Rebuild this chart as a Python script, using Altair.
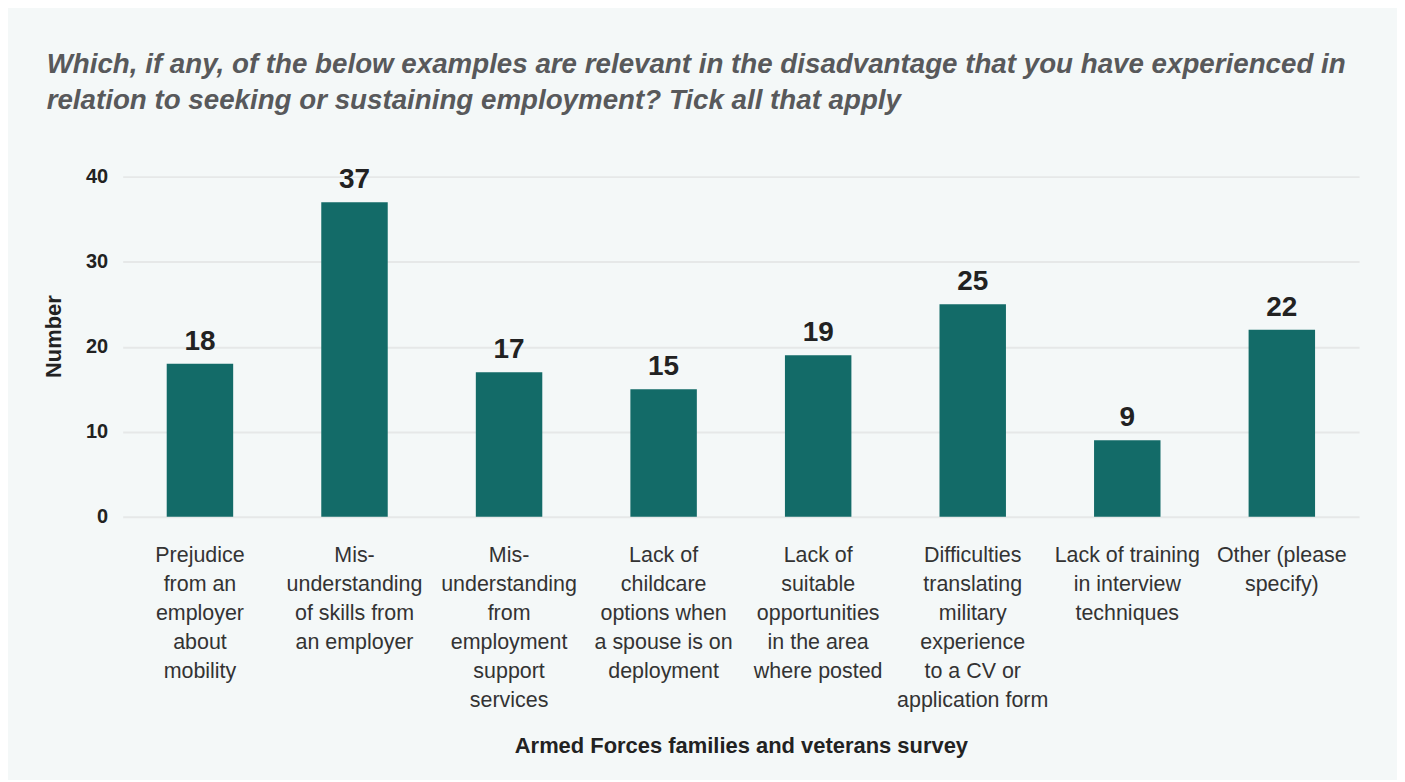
import altair as alt
import pandas as pd

categories = [
    "Prejudice|from an|employer|about|mobility",
    "Mis-|understanding|of skills from|an employer",
    "Mis-|understanding|from|employment|support|services",
    "Lack of|childcare|options when|a spouse is on|deployment",
    "Lack of|suitable|opportunities|in the area|where posted",
    "Difficulties|translating|military|experience|to a CV or|application form",
    "Lack of training|in interview|techniques",
    "Other (please|specify)",
]
values = [18, 37, 17, 15, 19, 25, 9, 22]

df = pd.DataFrame({"cat": categories, "val": values})

FONT = "Liberation Sans"
BAR = "#136b68"

x = alt.X("cat:N", sort=categories,
          scale=alt.Scale(paddingInner=0.57, paddingOuter=0.285),
          axis=alt.Axis(title="Armed Forces families and veterans survey",
                        labelExpr="split(datum.label, '|')",
                        labelAngle=0, labelFontSize=21.5, labelLineHeight=29,
                        labelColor="#333333", labelFont=FONT, labelPadding=28,
                        labelLimit=300,
                        ticks=False, domain=False,
                        titleFont=FONT, titleFontSize=22, titleFontWeight="bold",
                        titleColor="#222222", titlePadding=25))

y = alt.Y("val:Q", scale=alt.Scale(domain=[0, 40]),
          axis=alt.Axis(title="Number", values=[0, 10, 20, 30, 40],
                        labelFont=FONT, labelFontSize=20, labelFontWeight="bold",
                        labelColor="#222222", labelPadding=15,
                        ticks=False, domain=False,
                        gridColor="#e6e8e8", gridWidth=2,
                        titleFont=FONT, titleFontSize=22, titleFontWeight="bold",
                        titleColor="#222222", titlePadding=20, titleY=160))

bars = alt.Chart(df).mark_bar(color=BAR).encode(x=x, y=y)
labels = alt.Chart(df).mark_text(dy=-22, font=FONT, fontSize=28, fontWeight="bold",
                                 color="#222222").encode(
    x=alt.X("cat:N", sort=categories), y="val:Q", text="val:Q")

chart = (bars + labels).properties(
    width=1240, height=341,
    background="#f4f8f8",
    padding={"left": 34, "top": 41, "right": 38, "bottom": 22},
    title=alt.TitleParams(
        text=["Which, if any, of the below examples are relevant in the disadvantage that you have experienced in",
              "relation to seeking or sustaining employment? Tick all that apply"],
        anchor="start", frame="bounds", font=FONT, fontSize=27.8, fontStyle="italic",
        fontWeight="bold", color="#58595b", lineHeight=36, offset=52, dx=4),
).configure_view(stroke=None)

chart.save("out.html", embed_options={"renderer": "svg", "actions": False})
